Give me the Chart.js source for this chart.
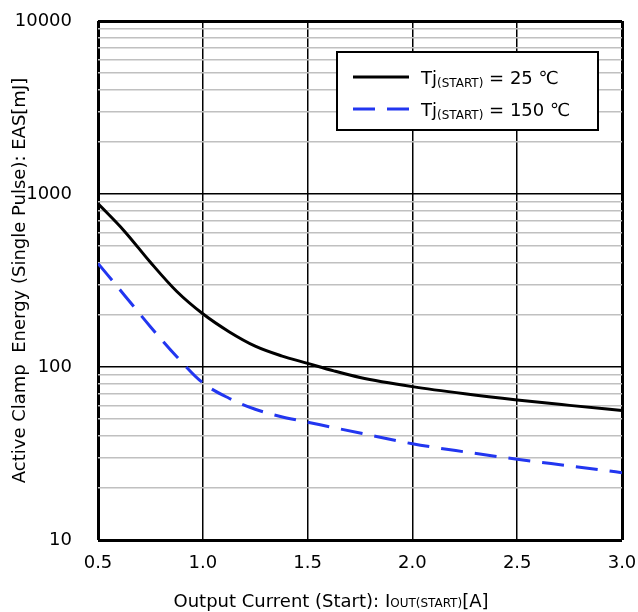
<!DOCTYPE html>
<html>
<head>
<meta charset="utf-8">
<title>Active Clamp Energy</title>
<script src="https://cdn.jsdelivr.net/npm/chart.js@4.4.1/dist/chart.umd.min.js"></script>
<style>
  body {
    margin: 0;
    background: #ffffff;
  }
  #grafico {
    display: block;
  }
</style>
</head>
<body>
<canvas id="grafico" width="638" height="612"></canvas>
<script>
/*==========================================================

DATOS DEL GRAFICO

==========================================================*/

// output current (start) [A]
var corriente = [0.5, 0.625, 0.75, 0.875, 1.0, 1.125, 1.25, 1.375, 1.5, 1.625, 1.75, 2.0, 2.25, 2.5, 2.75, 3.0];
// EAS [mJ] for Tj(start) = 25 C
var energia25 = [880, 612, 403, 274, 203, 160, 132, 116, 105, 95, 87, 77, 70, 64.5, 60, 56];
// EAS [mJ] for Tj(start) = 150 C
var energia150 = [397, 261, 171, 115, 81, 66, 57, 51.6, 48, 44.6, 41.5, 36, 32.3, 29.3, 26.8, 24.5];

var temperaturas = [25, 150];
var etiquetasX = [0.5, 1.0, 1.5, 2.0, 2.5, 3.0];
var etiquetasY = [10, 100, 1000, 10000];

var fuente = "'DejaVu Sans', Verdana, sans-serif";

function puntos(xs, ys) {
  return xs.map(function (x, i) {
    return { x: x, y: ys[i] };
  });
}

// minor grid values 20, 30 ... 9000 between the decades
function ticksLog() {
  var lista = [];
  for (var d = 0; d < etiquetasY.length - 1; d++) {
    for (var m = 1; m < 10; m++) {
      lista.push({ value: etiquetasY[d] * m });
    }
  }
  lista.push({ value: etiquetasY[etiquetasY.length - 1] });
  return lista;
}

/*==========================================================

LEYENDA Y TITULO X (texto con subindice)

==========================================================*/

var pluginTextos = {
  id: "textos",
  afterDraw: function (chart) {
    var ctx = chart.ctx;
    var area = chart.chartArea;
    ctx.save();

    // legend box
    var lx = area.right - 285,
      ly = area.top + 31,
      lw = 261,
      lh = 78;
    ctx.fillStyle = "#ffffff";
    ctx.fillRect(lx, ly, lw, lh);
    ctx.strokeStyle = "#000000";
    ctx.lineWidth = 2;
    ctx.strokeRect(lx, ly, lw, lh);

    chart.data.datasets.forEach(function (ds, i) {
      var y = ly + 25 + i * 32;
      ctx.beginPath();
      ctx.setLineDash(ds.borderDash || []);
      ctx.strokeStyle = ds.borderColor;
      ctx.lineWidth = ds.borderWidth;
      ctx.moveTo(lx + 16, y);
      ctx.lineTo(lx + 72, y);
      ctx.stroke();
      ctx.setLineDash([]);

      ctx.fillStyle = "#000000";
      ctx.textBaseline = "alphabetic";
      ctx.textAlign = "left";
      var tx = lx + 84,
        base = y + 7;
      ctx.font = "18px " + fuente;
      ctx.fillText("Tj", tx, base);
      tx += ctx.measureText("Tj").width;
      ctx.font = "12px " + fuente;
      ctx.fillText("(START)", tx, base + 3);
      tx += ctx.measureText("(START)").width;
      ctx.font = "18px " + fuente;
      ctx.fillText(" = " + temperaturas[i] + " \u2103", tx, base);
    });

    // x axis title
    var partes = [
      { t: "Output Current (Start): I", f: "18px " + fuente },
      { t: "OUT(START)", f: "12px " + fuente },
      { t: "[A]", f: "18px " + fuente },
    ];
    var total = 0;
    partes.forEach(function (p) {
      ctx.font = p.f;
      p.w = ctx.measureText(p.t).width;
      total += p.w;
    });
    var x0 = 331 - total / 2;
    partes.forEach(function (p) {
      ctx.font = p.f;
      ctx.fillText(p.t, x0, 607);
      x0 += p.w;
    });
    ctx.restore();
  },
};

/*==========================================================

GRAFICO

==========================================================*/

function mostrarGrafico() {
  var ctx = document.getElementById("grafico").getContext("2d");
  new Chart(ctx, {
    type: "line",
    data: {
      datasets: [
        {
          label: "Tj(START) = 25 \u2103",
          data: puntos(corriente, energia25),
          borderColor: "#000000",
          borderWidth: 3,
          pointRadius: 0,
          cubicInterpolationMode: "monotone",
          fill: false,
        },
        {
          label: "Tj(START) = 150 \u2103",
          data: puntos(corriente, energia150),
          borderColor: "#2236f0",
          borderWidth: 3,
          borderDash: [22, 12],
          pointRadius: 0,
          cubicInterpolationMode: "monotone",
          fill: false,
        },
      ],
    },
    options: {
      responsive: false,
      devicePixelRatio: 1,
      animation: false,
      layout: {
        padding: { top: 21, right: 16, left: 0, bottom: 0 },
      },
      plugins: {
        legend: { display: false },
        tooltip: { enabled: false },
      },
      scales: {
        x: {
          type: "linear",
          min: 0.5,
          max: 3.0,
          afterFit: function (s) {
            s.height = 72;
            s.paddingLeft = 0;
            s.paddingRight = 0;
          },
          afterBuildTicks: function (s) {
            s.ticks = etiquetasX.map(function (v) {
              return { value: v };
            });
          },
          border: { display: false },
          grid: {
            drawTicks: false,
            color: "#000000",
            lineWidth: function (c) {
              var v = c.tick && c.tick.value;
              return v === 0.5 || v === 3.0 ? 3 : 1.5;
            },
          },
          ticks: {
            padding: 13,
            color: "#000000",
            font: { family: fuente, size: 18 },
            callback: function (v) {
              return Number(v).toFixed(1);
            },
          },
        },
        y: {
          type: "logarithmic",
          min: 10,
          max: 10000,
          afterFit: function (s) {
            s.width = 98;
            s.paddingTop = 0;
            s.paddingBottom = 0;
          },
          afterBuildTicks: function (s) {
            s.ticks = ticksLog();
          },
          border: { display: false },
          grid: {
            drawTicks: false,
            color: function (c) {
              var v = c.tick && c.tick.value;
              return etiquetasY.indexOf(v) >= 0 ? "#000000" : "#c0c0c0";
            },
            lineWidth: function (c) {
              var v = c.tick && c.tick.value;
              return v === 10 || v === 10000 ? 3 : 1.5;
            },
          },
          ticks: {
            autoSkip: false,
            padding: 26,
            color: "#000000",
            font: { family: fuente, size: 18 },
            callback: function (v) {
              return etiquetasY.indexOf(v) >= 0 ? String(v) : "";
            },
          },
          title: {
            display: true,
            text: "Active Clamp  Energy (Single Pulse): EAS[mJ]",
            color: "#000000",
            font: { family: fuente, size: 18 },
            padding: { top: 10, bottom: 0 },
          },
        },
      },
    },
    plugins: [pluginTextos],
  });
}

mostrarGrafico();
</script>
</body>
</html>
